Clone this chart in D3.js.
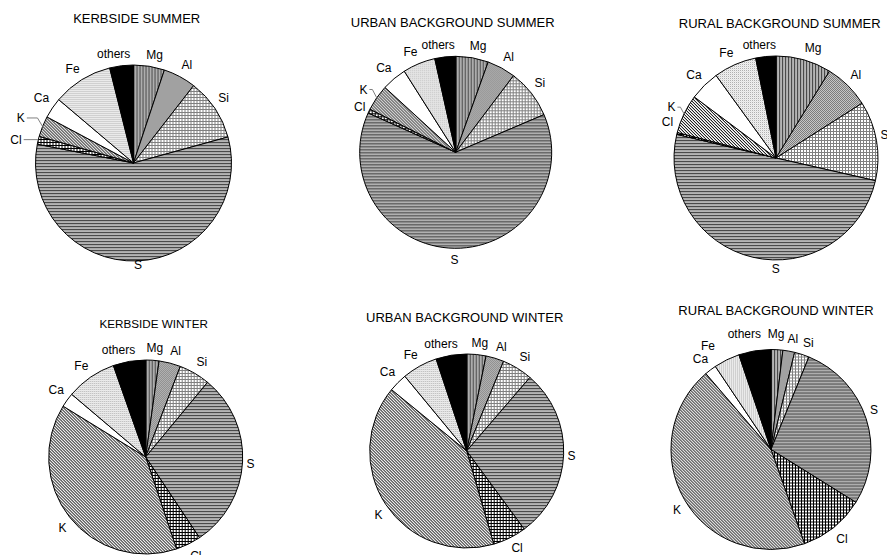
<!DOCTYPE html>
<html>
<head>
<meta charset="utf-8">
<script src="https://cdn.jsdelivr.net/npm/d3@7"></script>
<style>
  html, body { margin: 0; padding: 0; background: #fff; }
  svg { display: block; font-family: "Liberation Sans", Arial, sans-serif; }
</style>
</head>
<body>
<svg id="chart" width="887" height="555"></svg>
<script>
// Elemental composition (% of measured mass), clockwise from 12 o'clock
const elements = ["Mg", "Al", "Si", "S", "Cl", "K", "Ca", "Fe", "others"];
const titles = [
  "KERBSIDE SUMMER", "URBAN BACKGROUND SUMMER", "RURAL BACKGROUND SUMMER",
  "KERBSIDE WINTER", "URBAN BACKGROUND WINTER", "RURAL BACKGROUND WINTER"
];
const kerbsideSummer = [5.1, 5.4, 10.2, 57.3, 1.3, 3.4, 3.4, 9.9, 3.9];
const urbanSummer    = [5.5, 4.8, 8.3, 63.2, 0.7, 4.4, 4.2, 5.5, 3.5];
const ruralSummer    = [8.8, 7.2, 12.6, 50.2, 0.3, 6.2, 4.8, 6.8, 3.2];
const kerbsideWinter = [2.2, 3.6, 5.2, 29.6, 4.2, 38.9, 2.4, 8.4, 5.4];
const urbanWinter    = [3.2, 3.0, 5.1, 28.6, 5.6, 40.4, 3.1, 5.9, 5.1];
const ruralWinter    = [1.9, 1.9, 2.4, 27.7, 10.7, 44.2, 1.9, 4.2, 5.2];
const seriesValues = [kerbsideSummer, urbanSummer, ruralSummer,
                      kerbsideWinter, urbanWinter, ruralWinter];

// Panel layout: pie centre, radius, title placement
const panels = [
  { cx: 133.5, cy: 163,   r: 98,  tx: 136.7, ty: 23.3,  ts: 13 },
  { cx: 455.7, cy: 152.3, r: 96,  tx: 452.7, ty: 26.7,  ts: 13 },
  { cx: 776,   cy: 158,   r: 102, tx: 779.7, ty: 27.7,  ts: 13 },
  { cx: 145.7, cy: 457,   r: 97,  tx: 153.7, ty: 327.7, ts: 11.7 },
  { cx: 466.7, cy: 451,   r: 97,  tx: 464.7, ty: 322.3, ts: 13 },
  { cx: 771,   cy: 449.5, r: 100, tx: 776,   ty: 315,   ts: 13 }
];

// Hand-adjusted label offsets [dx, dy, leader line]
const labelShift = [
  { S: [0, -8, false], K: [-14, 1, true], Cl: [-12.6, 7, true] },
  { K: [-6, 2, true], Cl: [0, 5, false] },
  { S: [27, 0, false], K: [-5, 3, true], Cl: [0, -4, false] },
  {},
  { Cl: [0, -2, false] },
  { Mg: [-3, -4, false], others: [0, -5, false], Fe: [-10, -2, false] }
];

const svg = d3.select("#chart");
const defs = svg.append("defs");

// Monochrome fill patterns built from small pixel tiles
function pixelPattern(id, tile) {
  const h = tile.length, w = tile[0].length;
  const p = defs.append("pattern")
    .attr("id", id).attr("patternUnits", "userSpaceOnUse")
    .attr("width", w).attr("height", h);
  tile.forEach((row, y) => row.forEach((c, x) => {
    p.append("rect").attr("x", x).attr("y", y).attr("width", 1).attr("height", 1)
      .attr("fill", c).attr("shape-rendering", "crispEdges");
  }));
}
const W = "#ffffff";
pixelPattern("pat-Mg", [["#4a4a4a", "#a8a8a8", "#b4b4b4"]]);
pixelPattern("pat-Al", [["#7c7c7c", "#c6c6c6"], ["#c6c6c6", "#7c7c7c"]]);
pixelPattern("pat-Si", [["#808080", "#808080", "#808080"], ["#808080", W, W], ["#808080", W, W]]);
pixelPattern("pat-S",  [["#4a4a4a"], ["#a8a8a8"], ["#b4b4b4"]]);
pixelPattern("pat-Cl", [["#000", "#000", "#000"], ["#000", W, W], ["#000", W, W]]);
pixelPattern("pat-K",  [["#222", W, "#bbb"], ["#bbb", "#222", W], [W, "#bbb", "#222"]]);
pixelPattern("pat-Fe", [["#b0b0b0", "#f0f0f0"], ["#f0f0f0", "#e4e4e4"]]);

const fills = {
  Mg: "url(#pat-Mg)", Al: "url(#pat-Al)", Si: "url(#pat-Si)", S: "url(#pat-S)",
  Cl: "url(#pat-Cl)", K: "url(#pat-K)", Ca: "#ffffff", Fe: "url(#pat-Fe)", others: "#000000"
};

const pie = d3.pie().sort(null).value(d => d.value);
const clamp = v => Math.max(-1, Math.min(1, v));

seriesValues.forEach((vals, i) => {
  const pnl = panels[i];
  const data = elements.map((name, k) => ({ name, value: vals[k] }));
  const arcs = pie(data);
  const arc = d3.arc().innerRadius(0).outerRadius(pnl.r);

  svg.append("text")
    .attr("x", pnl.tx).attr("y", pnl.ty)
    .attr("text-anchor", "middle")
    .attr("font-size", pnl.ts)
    .attr("fill", "#000")
    .text(titles[i]);

  const g = svg.append("g").attr("transform", `translate(${pnl.cx},${pnl.cy})`);
  g.selectAll("path.slice").data(arcs).join("path")
    .attr("class", "slice")
    .attr("d", arc)
    .attr("fill", d => fills[d.data.name])
    .attr("stroke", "#000")
    .attr("stroke-width", 1)
    .attr("stroke-linejoin", "round");

  // Category labels placed just outside the rim
  const shifts = labelShift[i];
  arcs.forEach(d => {
    const a = (d.startAngle + d.endAngle) / 2;
    const s = Math.sin(a), c = Math.cos(a);
    const t = g.append("text")
      .attr("font-size", 12)
      .attr("fill", "#000")
      .attr("text-anchor", "middle")
      .text(d.data.name);
    const tw = t.node().getComputedTextLength();
    const pr = pnl.r + 4;
    let lx = pr * s + clamp(3.6 * s) * tw / 2;
    let ly = -pr * c + clamp(-3.6 * c) * 8;
    const sh = shifts[d.data.name];
    if (sh) { lx += sh[0]; ly += sh[1]; }
    t.attr("x", lx).attr("y", ly + 4.2);
    if (sh && sh[2]) {
      const ex = pnl.r * s, ey = -pnl.r * c;
      const sx = lx + tw / 2 + 2;
      const bx = Math.max(sx + 3, ex - 0.6 * Math.abs(ey - ly));
      g.append("path")
        .attr("d", `M${sx},${ly}L${bx},${ly}L${ex},${ey}`)
        .attr("fill", "none")
        .attr("stroke", "#808080")
        .attr("stroke-width", 1);
    }
  });
});
</script>
</body>
</html>
